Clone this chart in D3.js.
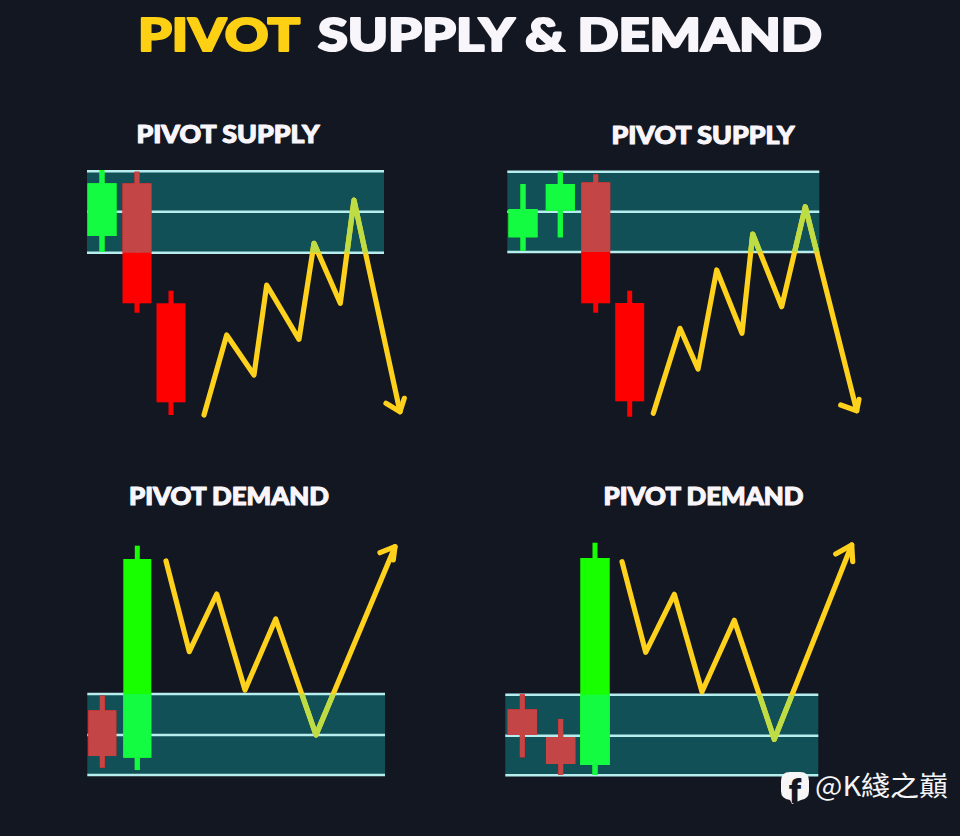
<!DOCTYPE html>
<html><head><meta charset="utf-8">
<script src="https://cdnjs.cloudflare.com/ajax/libs/d3/7.8.5/d3.min.js"></script>
<style>html,body{margin:0;padding:0;background:#131722;overflow:hidden}svg{display:block}</style>
</head><body><svg id="c" width="960" height="836"></svg>
<script>
const titleParts = ["PIVOT", "SUPPLY & DEMAND"];
const panelNames = ["PIVOT SUPPLY", "PIVOT SUPPLY", "PIVOT DEMAND", "PIVOT DEMAND"];
const watermark = "@K綫之巔";

const p1Times = [22, 57, 91], p1Open = [184, 236.7, 116.7], p1Close = [236.7, 116.7, 17.7], p1High = [250, 248.3, 129.3], p1Low = [168, 107.3, 5];
const p2Times = [23, 60.3, 95.7, 129.7], p2Open = [182.7, 209.3, 237.7, 117], p2Close = [211, 236, 116.7, 18.7], p2High = [236, 248.3, 245.7, 129.3], p2Low = [169.3, 182.7, 107.3, 3.3];
const p3Times = [22.3, 57.3], p3Open = [69.7, 22.3], p3Close = [24, 221], p3High = [84.3, 234.3], p3Low = [12.3, 10];
const p4Times = [22.3, 60.7, 95], p4Open = [70.7, 43, 15], p4Close = [45, 16, 222], p4High = [85.7, 61, 237.3], p4Low = [22.7, 5, 5];

const p1PathT = [124, 146.7, 174, 186.7, 219, 234, 260.3, 274, 320], p1PathP = [5, 85, 45, 135, 80.7, 176.7, 116.7, 220, 8.3];
const p2PathT = [153.3, 180, 198, 216.7, 242, 252.7, 281.7, 305.3, 356.7], p2PathP = [6.7, 91.7, 51, 150, 86.7, 186, 113.3, 213.3, 9.3];
const p3PathT = [86, 109.3, 136.7, 165, 195.7, 236, 315], p3PathP = [219, 128.3, 186, 90, 161, 45, 233.3];
const p4PathT = [122, 145.7, 174.3, 202, 234.3, 274.3, 351.7], p4PathP = [218.3, 127.7, 185.7, 88.3, 159.7, 40.7, 235];

const p1HeadT = [306, 320, 324.3], p1HeadP = [16.7, 8.3, 21.7];
const p2HeadT = [340.7, 356.7, 359], p2HeadP = [15, 9.3, 20.7];
const p3HeadT = [300, 315, 313.3], p3HeadP = [227.3, 233.3, 220];
const p4HeadT = [335.7, 351.7, 352.7], p4HeadP = [226, 235, 218.3];

const p1Zone = [167.3, 208.3, 248.7], p2Zone = [168, 208.3, 248.3], p3Zone = [5, 45, 86], p4Zone = [4.7, 44.3, 85.3];
const p1ZoneT = [7, 304], p2ZoneT = [7.3, 319.3], p3ZoneT = [7.3, 305], p4ZoneT = [5.3, 318.3];

const panels = [
  {left:80, base:420, bw:29, titleX:228, titleY:143, tw:184, times:p1Times,o:p1Open,c:p1Close,h:p1High,l:p1Low,pt:p1PathT,pp:p1PathP,ht:p1HeadT,hp:p1HeadP,z:p1Zone,zt:p1ZoneT},
  {left:500,base:420, bw:29, titleX:703, titleY:144, tw:184, times:p2Times,o:p2Open,c:p2Close,h:p2High,l:p2Low,pt:p2PathT,pp:p2PathP,ht:p2HeadT,hp:p2HeadP,z:p2Zone,zt:p2ZoneT},
  {left:80, base:780, bw:28, titleX:229, titleY:505, tw:201, times:p3Times,o:p3Open,c:p3Close,h:p3High,l:p3Low,pt:p3PathT,pp:p3PathP,ht:p3HeadT,hp:p3HeadP,z:p3Zone,zt:p3ZoneT},
  {left:500,base:780, bw:29.5, titleX:703.5, titleY:505, tw:201, times:p4Times,o:p4Open,c:p4Close,h:p4High,l:p4Low,pt:p4PathT,pp:p4PathP,ht:p4HeadT,hp:p4HeadP,z:p4Zone,zt:p4ZoneT}
];

const svg = d3.select("#c");
svg.append("rect").attr("width",960).attr("height",836).attr("fill","#131722");
const font = "Lato, Roboto, sans-serif";
svg.append("text").text(titleParts[0]).attr("x",138).attr("y",51).attr("fill","#fdd014")
  .attr("stroke","#fdd014").attr("stroke-width",2.2).attr("stroke-linejoin","round")
  .attr("font-family",font).attr("font-weight",900).attr("font-size",46)
  .attr("textLength",162).attr("lengthAdjust","spacingAndGlyphs");
svg.append("text").text(titleParts[1]).attr("x",318).attr("y",51).attr("fill","#f8f5fb")
  .attr("stroke","#f8f5fb").attr("stroke-width",2.2).attr("stroke-linejoin","round")
  .attr("font-family",font).attr("font-weight",900).attr("font-size",46)
  .attr("textLength",504).attr("lengthAdjust","spacingAndGlyphs");

panels.forEach((p,i)=>{
  const g = svg.append("g");
  const x = d3.scaleLinear().domain([0,380]).range([p.left,p.left+380]);
  const y = d3.scaleLinear().domain([0,260]).range([p.base,p.base-260]);
  const id = "zone"+i;
  const zy0 = y(p.z[2]), zy1 = y(p.z[0]), zx0 = x(p.zt[0]), zx1 = x(p.zt[1]);
  svg.append("clipPath").attr("id",id).append("rect").attr("x",zx0).attr("y",zy0).attr("width",zx1-zx0).attr("height",zy1-zy0);

  g.append("text").text(panelNames[i]).attr("x",p.titleX).attr("y",p.titleY).attr("text-anchor","middle")
    .attr("fill","#f8f6fa").attr("stroke","#f8f6fa").attr("stroke-width",1.1).attr("stroke-linejoin","round")
    .attr("font-family",font).attr("font-weight",900).attr("font-size",24)
    .attr("textLength",p.tw-1).attr("lengthAdjust","spacingAndGlyphs");

  g.append("rect").attr("x",zx0).attr("y",zy0).attr("width",zx1-zx0).attr("height",zy1-zy0).attr("fill","#125058");
  g.selectAll(".zl").data(p.z).join("line").attr("x1",zx0).attr("x2",zx1).attr("y1",d=>y(d)).attr("y2",d=>y(d))
    .attr("stroke","#b6eef0").attr("stroke-width",2.4);

  const candles = p.times.map((t,k)=>({t,o:p.o[k],c:p.c[k],h:p.h[k],l:p.l[k]}));
  const drawCandles = (parent, up, down) => {
    parent.selectAll(".w").data(candles).join("rect").attr("x",d=>x(d.t)-2.5).attr("width",5)
      .attr("y",d=>y(d.h)).attr("height",d=>y(d.l)-y(d.h)).attr("fill",d=>d.c>d.o?up:down);
    parent.selectAll(".b").data(candles).join("rect").attr("x",d=>x(d.t)-p.bw/2).attr("width",p.bw)
      .attr("y",d=>y(Math.max(d.o,d.c))).attr("height",d=>Math.abs(y(d.o)-y(d.c))).attr("fill",d=>d.c>d.o?up:down);
  };
  drawCandles(g.append("g"), "#18ff00", "#ff0000");
  drawCandles(g.append("g").attr("clip-path",`url(#${id})`), "#14fc42", "#c44545");

  const line = d3.line().x(d=>x(d[0])).y(d=>y(d[1])).curve(d3.curveLinear);
  const pathPts = d3.zip(p.pt,p.pp), headPts = d3.zip(p.ht,p.hp);
  const drawPath = (parent,color)=>{
    parent.append("path").attr("d",line(pathPts)).attr("fill","none").attr("stroke",color).attr("stroke-width",5.2)
      .attr("stroke-linejoin","round").attr("stroke-linecap","round");
    parent.append("path").attr("d",line(headPts)).attr("fill","none").attr("stroke",color).attr("stroke-width",5.2)
      .attr("stroke-linejoin","round").attr("stroke-linecap","round");
  };
  drawPath(g.append("g"),"#fdd11c");
  drawPath(g.append("g").attr("clip-path",`url(#${id})`),"#bedd45");
});

// watermark
const wm = svg.append("g");
wm.append("path").attr("fill","#f6f6f6")
  .attr("d","M790 772 H800 Q809 772 809 781 V791 Q809 799 801 800 L792 804 L790 800 Q781 799 781 791 V781 Q781 772 790 772 Z");
wm.append("text").text("f").attr("x",789).attr("y",803).attr("fill","#131722").attr("font-family","Roboto, sans-serif").attr("font-weight",900).attr("font-size",34);
wm.append("text").text(watermark).attr("x",815).attr("y",796).attr("fill","#f4f4f4")
  .attr("font-family","'Noto Sans CJK TC', sans-serif").attr("font-size",27)
  .attr("textLength",133).attr("lengthAdjust","spacingAndGlyphs");
</script></body></html>
